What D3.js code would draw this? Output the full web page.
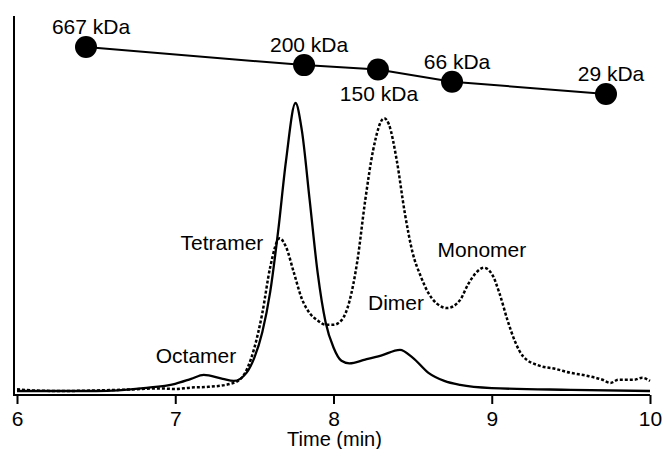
<!DOCTYPE html>
<html>
<head>
<meta charset="utf-8">
<script src="https://cdn.jsdelivr.net/npm/d3@7"></script>
<style>
  body { margin: 0; background: #fff; }
  svg { font-family: "Liberation Sans", Arial, sans-serif; }
</style>
</head>
<body>
<script>
// elution traces (time in min, relative absorbance)
var solidTime = [6.0, 6.5, 6.8, 7.0, 7.1, 7.18, 7.3, 7.37, 7.45, 7.5, 7.55, 7.6, 7.65, 7.7, 7.76, 7.8, 7.85, 7.9, 7.95, 8.0, 8.05, 8.1, 8.2, 8.3, 8.42, 8.5, 8.6, 8.7, 8.8, 9.0, 9.5, 10.0];
var solidValue = [0, 0, 1, 2.5, 4.2, 5.6, 4.2, 3.5, 6.3, 11.6, 20.4, 34.4, 55.4, 80, 100, 90.5, 66, 41, 23.9, 15.1, 10.5, 9.6, 10.9, 12.3, 14.3, 11.6, 6.3, 3.5, 2.1, 1.0, 0.4, 0];

var dottedTime = [6.0, 6.1, 6.3, 6.5, 6.7, 6.9, 7.0, 7.1, 7.2, 7.35, 7.42, 7.5, 7.55, 7.6, 7.66, 7.7, 7.75, 7.8, 7.85, 7.9, 7.95, 8.0, 8.05, 8.1, 8.15, 8.2, 8.25, 8.32, 8.35, 8.4, 8.45, 8.5, 8.55, 8.6, 8.65, 8.72, 8.8, 8.85, 8.9, 8.95, 9.0, 9.05, 9.1, 9.15, 9.2, 9.3, 9.4, 9.5, 9.6, 9.7, 9.75, 9.8, 9.9, 9.95, 10.0];
var dottedValue = [0.6, 0.2, 0, 0.2, 0.5, 0.9, 0.7, 1.2, 1.4, 2.5, 4.6, 15, 27, 43, 53, 50, 41, 32, 27, 24.5, 23, 23, 24.5, 31, 44.9, 66, 83.5, 94.7, 92.6, 80, 62, 48, 40, 34, 30.5, 28.8, 31.6, 37, 41, 42.8, 40.7, 33.7, 24.5, 16.8, 11.9, 8.8, 7.7, 6.3, 5.3, 3.9, 2.8, 3.9, 3.9, 4.6, 3.5];

// molecular weight standards
var stdName = ["667 kDa", "200 kDa", "150 kDa", "66 kDa", "29 kDa"];
var stdTime = [6.436, 7.814, 8.281, 8.749, 9.722];
var stdMW = [667, 200, 150, 66, 29];
var stdBelow = [false, false, true, false, false];

// peak annotations
var peakName = ["Octamer", "Tetramer", "Dimer", "Monomer"];
var peakTime = [7.131, 7.295, 8.395, 8.938];
var peakValue = [9.6, 49, 28, 46.5];

var xTicks = [6, 7, 8, 9, 10];

var width = 665, height = 449;

var svg = d3.select("body").append("svg")
  .attr("width", width)
  .attr("height", height);

var x = d3.scaleLinear().domain([6, 10]).range([17, 650]);
var y = d3.scaleLinear().domain([0, 100]).range([391, 103]);
var yMW = d3.scaleLog().domain([10, 1000]).range([110, 41]);

var axisY = 395;

// axes
var xAxis = svg.append("g")
  .attr("transform", "translate(0," + axisY + ")")
  .call(d3.axisBottom(x).tickValues(xTicks).tickFormat(d3.format("d")).tickSize(9).tickSizeOuter(0));
xAxis.select(".domain").attr("d", "M14,0H" + x(10)).attr("stroke-width", 2);
xAxis.selectAll(".tick line").attr("stroke-width", 2);
xAxis.selectAll(".tick text")
  .attr("y", 16)
  .attr("font-size", 21)
  .attr("font-family", "Liberation Sans, Arial, sans-serif")
  .attr("fill", "#000");

svg.append("line")
  .attr("x1", 14).attr("x2", 14)
  .attr("y1", 16).attr("y2", axisY + 1)
  .attr("stroke", "#000").attr("stroke-width", 2);

svg.append("text")
  .attr("x", x(8) + 1).attr("y", 446)
  .attr("text-anchor", "middle")
  .attr("font-size", 20)
  .text("Time (min)");

// traces
var line = d3.line()
  .x(function(d) { return x(d[0]); })
  .y(function(d) { return y(d[1]); })
  .curve(d3.curveMonotoneX);

svg.append("path")
  .datum(d3.zip(dottedTime, dottedValue))
  .attr("d", line)
  .attr("fill", "none")
  .attr("stroke", "#000")
  .attr("stroke-width", 2.5)
  .attr("stroke-dasharray", "3,2");

svg.append("path")
  .datum(d3.zip(solidTime, solidValue))
  .attr("d", line)
  .attr("fill", "none")
  .attr("stroke", "#000")
  .attr("stroke-width", 2.3);

// standards
var stds = stdName.map(function(n, i) {
  return { name: n, t: stdTime[i], mw: stdMW[i], below: stdBelow[i] };
});

svg.append("path")
  .datum(stds)
  .attr("d", d3.line()
    .x(function(d) { return x(d.t); })
    .y(function(d) { return yMW(d.mw); }))
  .attr("fill", "none")
  .attr("stroke", "#000")
  .attr("stroke-width", 2);

svg.selectAll(".std")
  .data(stds)
  .enter().append("circle")
  .attr("class", "std")
  .attr("cx", function(d) { return x(d.t); })
  .attr("cy", function(d) { return yMW(d.mw); })
  .attr("r", 11)
  .attr("fill", "#000");

svg.selectAll(".stdlabel")
  .data(stds)
  .enter().append("text")
  .attr("class", "stdlabel")
  .attr("x", function(d) { return x(d.t) + (d.below ? 1 : 5); })
  .attr("y", function(d) { return yMW(d.mw) + (d.below ? 32 : -13); })
  .attr("text-anchor", "middle")
  .attr("font-size", 21)
  .text(function(d) { return d.name; });

// peak labels
svg.selectAll(".peak")
  .data(peakName)
  .enter().append("text")
  .attr("class", "peak")
  .attr("x", function(d, i) { return x(peakTime[i]); })
  .attr("y", function(d, i) { return y(peakValue[i]); })
  .attr("text-anchor", "middle")
  .attr("font-size", 21)
  .text(function(d) { return d; });
</script>
</body>
</html>
